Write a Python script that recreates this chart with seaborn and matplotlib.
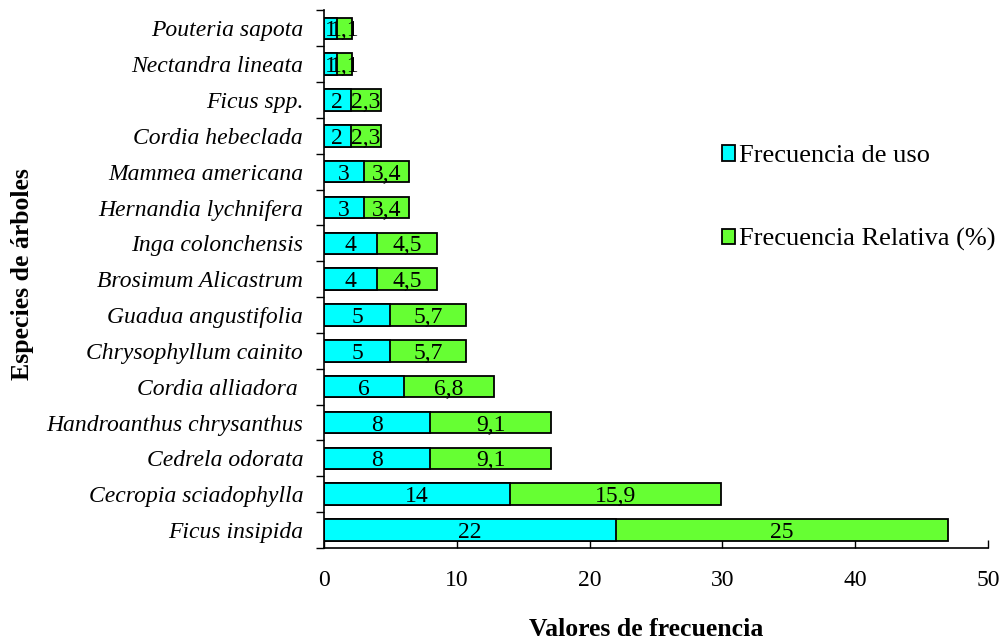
import numpy as np
import pandas as pd
import matplotlib
matplotlib.use("Agg")
import matplotlib.pyplot as plt
import seaborn as sns
from matplotlib.patches import Patch

# Data (top to bottom as shown)
species = [
    "Pouteria sapota", "Nectandra lineata", "Ficus spp.", "Cordia hebeclada",
    "Mammea americana", "Hernandia lychnifera", "Inga colonchensis",
    "Brosimum Alicastrum", "Guadua angustifolia", "Chrysophyllum cainito",
    "Cordia alliadora ", "Handroanthus chrysanthus", "Cedrela odorata",
    "Cecropia sciadophylla", "Ficus insipida",
]
freq_uso = [1, 1, 2, 2, 3, 3, 4, 4, 5, 5, 6, 8, 8, 14, 22]
freq_rel = [1.1, 1.1, 2.3, 2.3, 3.4, 3.4, 4.5, 4.5, 5.7, 5.7, 6.8, 9.1, 9.1, 15.9, 25]

df = pd.DataFrame({"Especie": species, "Uso": freq_uso, "Relativa": freq_rel})
df["Total"] = df["Uso"] + df["Relativa"]

cyan = "#00FFFF"
green = "#66FF33"

sns.set_style("white")
plt.rcParams["font.family"] = ["Liberation Serif", "DejaVu Serif"]
plt.rcParams["text.color"] = "black"
plt.rcParams["axes.labelcolor"] = "black"
plt.rcParams["xtick.color"] = "black"
plt.rcParams["ytick.color"] = "black"

fig = plt.figure(figsize=(10.08, 6.4), dpi=100)
ax = fig.add_axes([0.3214, 0.14375, 0.6587, 0.84])

# stacked look: total in green, uso drawn over it in cyan
sns.barplot(data=df, y="Especie", x="Total", color=green, width=0.6,
            edgecolor="black", linewidth=1.3, saturation=1, ax=ax, orient="h")
sns.barplot(data=df, y="Especie", x="Uso", color=cyan, width=0.6,
            edgecolor="black", linewidth=1.3, saturation=1, ax=ax, orient="h")

# value labels
for i, (u, r) in enumerate(zip(freq_uso, freq_rel)):
    ax.text(u / 2, i + 0.07, f"{u}", ha="center", va="center", fontsize=17)
    ax.text(u + r / 2, i + 0.07, f"{r:g}".replace(".", ","), ha="center",
            va="center", fontsize=17)

ax.set_xlim(0, 50)
ax.set_ylim(len(species) - 0.5, -0.5)
ax.set_xticks([0, 10, 20, 30, 40, 50])
ax.tick_params(axis="x", direction="in", length=6, width=1, pad=16,
               labelsize=17, bottom=True)
ax.set_yticks(range(len(species)))
ax.set_yticklabels(species, fontsize=17, fontstyle="italic")
ax.tick_params(axis="y", which="major", length=0, pad=15)
ax.set_yticks(np.arange(-0.5, len(species), 1), minor=True)
ax.tick_params(axis="y", which="minor", direction="out", length=6, width=1,
               left=True)

for s in ["top", "right"]:
    ax.spines[s].set_visible(False)
for s in ["left", "bottom"]:
    ax.spines[s].set_color("black")
    ax.spines[s].set_linewidth(1.2)

ax.set_xlabel("Valores de frecuencia", fontsize=18.5, fontweight="bold")
ax.xaxis.set_label_coords(0.485, -0.13)
ax.set_ylabel("Especies de árboles", fontsize=18.5, fontweight="bold")
ax.yaxis.set_label_coords(-0.437, 0.51)

handles = [Patch(facecolor=cyan, edgecolor="black", linewidth=1.3, label="Frecuencia de uso"),
           Patch(facecolor=green, edgecolor="black", linewidth=1.3, label="Frecuencia Relativa (%)")]
fig.legend(handles=handles, loc="upper left", bbox_to_anchor=(0.693, 0.81),
           frameon=False, fontsize=19, labelspacing=2.3, handlelength=0.5,
           handleheight=0.5, handletextpad=0.15)

fig.savefig("out.png", dpi=100)
